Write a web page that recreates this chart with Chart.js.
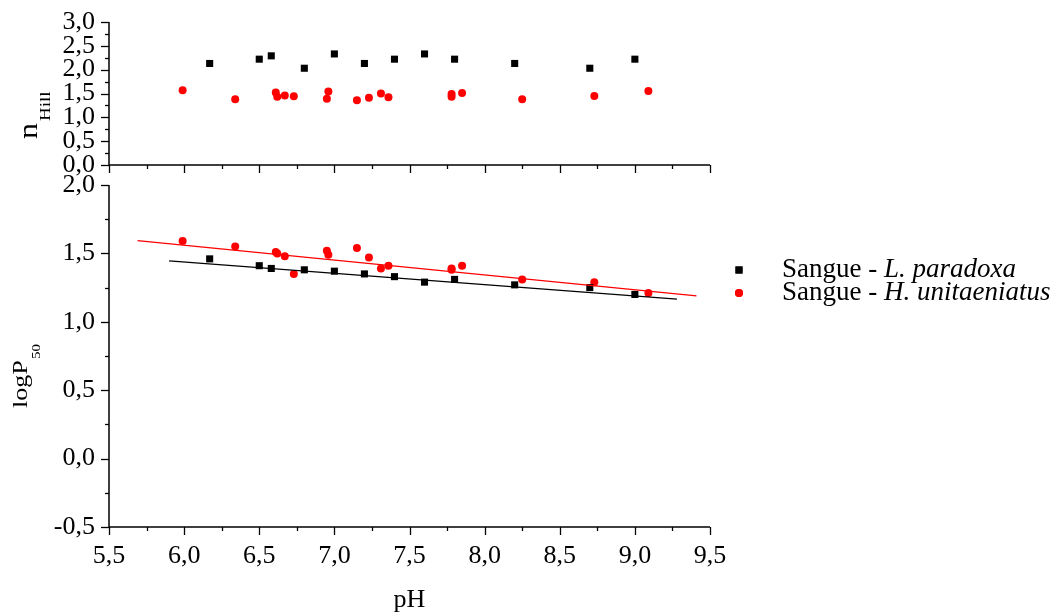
<!DOCTYPE html>
<html>
<head>
<meta charset="utf-8">
<script src="https://cdn.jsdelivr.net/npm/chart.js@4/dist/chart.umd.min.js"></script>
<style>
  html, body { margin: 0; padding: 0; background: #fff; }
  #wrap { position: relative; width: 1058px; height: 616px; overflow: hidden; }
  canvas { position: absolute; left: 0; }
  #topChart { top: 0; }
  #botChart { top: 170px; }
</style>
</head>
<body>
<div id="wrap">
  <canvas id="topChart" width="1058" height="180"></canvas>
  <canvas id="botChart" width="1058" height="446"></canvas>
</div>
<script>
// dados
const seriesNames = [['Sangue - ', 'L. paradoxa'], ['Sangue - ', 'H. unitaeniatus']];

const phL     = [6.17, 6.5, 6.58, 6.8, 7.0, 7.2, 7.4, 7.6, 7.8, 8.2, 8.7, 9.0];
const nHillL  = [2.13, 2.22, 2.29, 2.03, 2.33, 2.13, 2.22, 2.33, 2.22, 2.13, 2.03, 2.22];
const logP50L = [1.46, 1.41, 1.39, 1.38, 1.37, 1.35, 1.33, 1.29, 1.31, 1.27, 1.25, 1.20];

const phH     = [5.99, 6.34, 6.61, 6.62, 6.67, 6.73, 6.95, 6.96, 7.15, 7.23, 7.31, 7.36, 7.78, 7.78, 7.85, 8.25, 8.73, 9.09];
const nHillH  = [1.57, 1.38, 1.52, 1.43, 1.46, 1.44, 1.39, 1.54, 1.36, 1.41, 1.50, 1.42, 1.49, 1.43, 1.51, 1.38, 1.45, 1.55];
const logP50H = [1.59, 1.55, 1.51, 1.50, 1.48, 1.35, 1.52, 1.49, 1.54, 1.47, 1.39, 1.41, 1.38, 1.39, 1.41, 1.31, 1.29, 1.21];

// retas de ajuste (extremos)
const fitLx = [5.9, 9.28];
const fitLy = [1.446, 1.166];
const fitHx = [5.69, 9.41];
const fitHy = [1.593, 1.190];

const xTicks = [5.5, 6.0, 6.5, 7.0, 7.5, 8.0, 8.5, 9.0, 9.5];
const topYTicks = [0, 0.5, 1.0, 1.5, 2.0, 2.5, 3.0];
const botYTicks = [-0.5, 0, 0.5, 1.0, 1.5, 2.0];

const FONT = '"Liberation Serif", "Times New Roman", serif';
const pts = (xs, ys) => xs.map((x, i) => ({ x: x, y: ys[i] }));
const fmt = v => v.toFixed(1).replace('.', ',');

// texto rotacionado com subscrito
function drawRotTitle(ctx, parts) {
  parts.forEach(p => {
    ctx.save();
    ctx.translate(p.bx, p.y);
    ctx.rotate(-Math.PI / 2);
    ctx.scale(1, 0.82);
    ctx.font = p.size + 'px ' + FONT;
    ctx.fillStyle = '#000';
    ctx.textAlign = 'left';
    ctx.textBaseline = 'alphabetic';
    ctx.fillText(p.text, 0, 0);
    ctx.restore();
  });
}

const axesPlugin = {
  id: 'axesPlugin',
  afterDraw(chart, args, opts) {
    const ctx = chart.ctx, a = chart.chartArea;
    const xs = chart.scales.x, ys = chart.scales.y;
    ctx.save();
    ctx.strokeStyle = '#000';
    ctx.lineWidth = 1.5;
    ctx.beginPath();
    ctx.moveTo(a.left, a.top);
    ctx.lineTo(a.left, a.bottom);
    ctx.lineTo(a.right, a.bottom);
    ctx.stroke();
    ctx.lineWidth = 1.3;
    for (let k = 0; k <= Math.round((xs.max - xs.min) / 0.25); k++) {
      const v = xs.min + k * 0.25;
      const px = Math.round(xs.getPixelForValue(v)) + 0.5;
      ctx.beginPath();
      ctx.moveTo(px, a.bottom);
      ctx.lineTo(px, a.bottom + (k % 2 === 0 ? 8 : 4));
      ctx.stroke();
    }
    for (let k = 0; k <= Math.round((ys.max - ys.min) / 0.25); k++) {
      const v = ys.min + k * 0.25;
      const py = Math.round(ys.getPixelForValue(v)) + 0.5;
      ctx.beginPath();
      ctx.moveTo(a.left, py);
      ctx.lineTo(a.left - (k % 2 === 0 ? 8 : 4), py);
      ctx.stroke();
    }
    ctx.restore();
    if (opts.title) drawRotTitle(ctx, opts.title);
    if (opts.legend) {
      const lg = opts.legend;
      chart.data.datasets.forEach((ds, i) => {
        if (!ds.names) return;
        const y = lg.y + ds.legendRow * lg.gap;
        ctx.save();
        ctx.fillStyle = ds.backgroundColor;
        Chart.helpers.drawPoint(ctx, { pointStyle: ds.pointStyle, radius: ds.pointRadius, borderWidth: 0 }, lg.x, y);
        ctx.fill();
        ctx.textBaseline = 'middle';
        ctx.fillStyle = '#000';
        ctx.font = lg.size + 'px ' + FONT;
        ctx.fillText(ds.names[0], lg.tx, y);
        const w = ctx.measureText(ds.names[0]).width;
        ctx.font = 'italic ' + lg.size + 'px ' + FONT;
        ctx.fillText(ds.names[1], lg.tx + w, y);
        ctx.restore();
      });
    }
    if (opts.xTitle) {
      ctx.save();
      ctx.font = opts.xTitle.size + 'px ' + FONT;
      ctx.fillStyle = '#000';
      ctx.textAlign = 'center';
      ctx.textBaseline = 'alphabetic';
      ctx.fillText(opts.xTitle.text, (a.left + a.right) / 2, opts.xTitle.y);
      ctx.restore();
    }
  }
};

function scatterSet(data, color, style, r, names, row) {
  return {
    type: 'scatter', data: data, pointStyle: style, pointRadius: r,
    backgroundColor: color, borderColor: color, borderWidth: 0,
    names: names, legendRow: row
  };
}
function lineSet(data, color) {
  return {
    type: 'line', data: data, borderColor: color, borderWidth: 1.2,
    pointRadius: 0, fill: false, showLine: true
  };
}

// zera o padding extra que as escalas pedem para os rótulos das pontas
function noPad(s) {
  s.paddingTop = 0; s.paddingBottom = 0; s.paddingLeft = 0; s.paddingRight = 0;
}

function baseOptions(yMin, yMax, yTicks, showX, xH, padTop) {
  return {
    responsive: false,
    animation: false,
    events: [],
    layout: { padding: { left: 0, right: 348, top: padTop, bottom: 0 } },
    plugins: { legend: { display: false }, tooltip: { enabled: false } },
    scales: {
      x: {
        type: 'linear', min: 5.5, max: 9.5,
        afterFit: s => { s.height = xH; noPad(s); },
        afterBuildTicks: s => { s.ticks = xTicks.map(v => ({ value: v })); },
        grid: { display: false, drawTicks: false },
        border: { display: false },
        ticks: {
          display: showX, autoSkip: false, maxRotation: 0, padding: 14,
          color: '#000', font: { family: FONT, size: 26 },
          callback: v => fmt(v)
        }
      },
      y: {
        type: 'linear', min: yMin, max: yMax,
        afterFit: s => { s.width = 109; noPad(s); },
        afterBuildTicks: s => { s.ticks = yTicks.map(v => ({ value: v })); },
        grid: { display: false, drawTicks: false },
        border: { display: false },
        ticks: {
          autoSkip: false, padding: 14,
          color: '#000', font: { family: FONT, size: 26 },
          callback: v => fmt(v)
        }
      }
    }
  };
}

// painel superior: nHill
const topOpts = baseOptions(0, 3, topYTicks, false, 15, 22);
topOpts.plugins.axesPlugin = {
  title: [
    { text: 'n', size: 32, bx: 37, y: 139 },
    { text: 'Hill', size: 19, bx: 50, y: 121 }
  ]
};
new Chart(document.getElementById('topChart').getContext('2d'), {
  data: {
    datasets: [
      scatterSet(pts(phL, nHillL), '#000000', 'rect', 5),
      scatterSet(pts(phH, nHillH), '#ff0000', 'circle', 4)
    ]
  },
  options: topOpts,
  plugins: [axesPlugin]
});

// painel inferior: logP50
const botOpts = baseOptions(-0.5, 2, botYTicks, true, 89, 15);
botOpts.plugins.axesPlugin = {
  title: [
    { text: 'logP', size: 26, bx: 27, y: 238 },
    { text: '50', size: 15, bx: 40, y: 189 }
  ],
  legend: { x: 739, tx: 782, y: 100, gap: 23, size: 27 },
  xTitle: { text: 'pH', size: 26, y: 437 }
};
new Chart(document.getElementById('botChart').getContext('2d'), {
  data: {
    datasets: [
      lineSet(pts(fitLx, fitLy), '#000000'),
      lineSet(pts(fitHx, fitHy), '#ff0000'),
      scatterSet(pts(phL, logP50L), '#000000', 'rect', 5, seriesNames[0], 0),
      scatterSet(pts(phH, logP50H), '#ff0000', 'circle', 4, seriesNames[1], 1)
    ]
  },
  options: botOpts,
  plugins: [axesPlugin]
});
</script>
</body>
</html>
